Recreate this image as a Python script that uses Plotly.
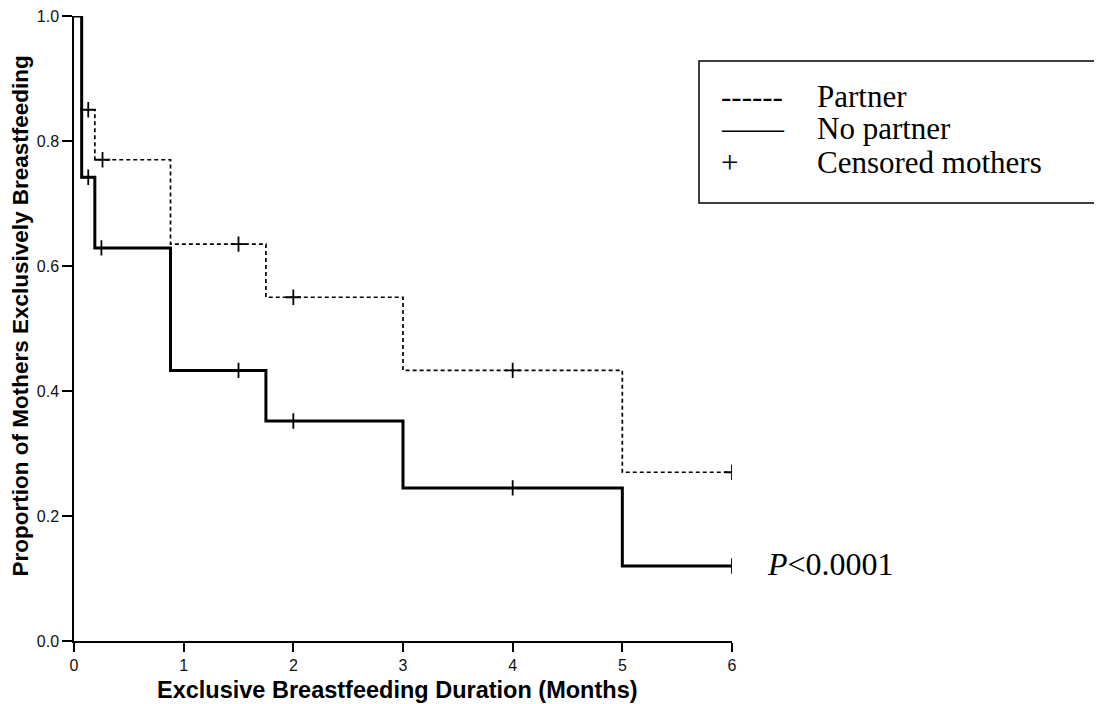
import plotly.graph_objects as go

# Kaplan-Meier step data (months, proportion)
partner_t = [0, 0.07, 0.19, 0.88, 1.75, 3.0, 5.0, 6.0]
partner_s = [1.0, 0.85, 0.77, 0.635, 0.55, 0.433, 0.27, 0.27]
nopartner_t = [0, 0.07, 0.19, 0.88, 1.75, 3.0, 5.0, 6.0]
nopartner_s = [1.0, 0.742, 0.629, 0.433, 0.352, 0.245, 0.12, 0.12]

# censored observations
partner_cens_t = [0.13, 0.26, 1.5, 2.0, 4.0, 6.0]
partner_cens_s = [0.85, 0.77, 0.635, 0.55, 0.433, 0.27]
nopartner_cens_t = [0.13, 0.25, 1.5, 2.0, 4.0, 6.0]
nopartner_cens_s = [0.742, 0.629, 0.433, 0.352, 0.245, 0.12]

x_ticks = [0, 1, 2, 3, 4, 5, 6]
y_ticks = [0.0, 0.2, 0.4, 0.6, 0.8, 1.0]
y_ticklabels = ["0.0", "0.2", "0.4", "0.6", "0.8", "1.0"]

legend_samples = ["------", "——", "+"]
legend_labels = ["Partner", "No partner", "Censored mothers"]
p_value_text = "<i>P</i>&lt;0.0001"
x_title = "<b>Exclusive Breastfeeding Duration (Months)</b>"
y_title = "<b>Proportion of Mothers Exclusively Breastfeeding</b>"

serif = "Liberation Serif, Times New Roman, serif"
sans = "Liberation Sans, Arial, sans-serif"

# page body has an 8px margin; plot area targeted at x 74..732, y 16..641 (page px)
W, H = 1094, 696
ML, MT = 66, 8
PW, PH = 658, 625
MR, MB = W - ML - PW, H - MT - PH


def px_x(page_x):
    return (page_x - 74) / PW


def px_y(page_y):
    return (641 - page_y) / PH


fig = go.Figure()
fig.add_trace(go.Scatter(
    x=partner_t, y=partner_s, mode="lines", line_shape="hv", name="Partner",
    line=dict(color="black", width=1.7, dash="4px,3px"), cliponaxis=False,
    showlegend=False))
fig.add_trace(go.Scatter(
    x=nopartner_t, y=nopartner_s, mode="lines", line_shape="hv", name="No partner",
    line=dict(color="black", width=3), cliponaxis=False, showlegend=False))
fig.add_trace(go.Scatter(
    x=partner_cens_t, y=partner_cens_s, mode="markers", name="Censored mothers",
    marker=dict(symbol="cross-thin", size=11, line=dict(color="black", width=1.8)),
    cliponaxis=True, showlegend=False))
fig.add_trace(go.Scatter(
    x=nopartner_cens_t, y=nopartner_cens_s, mode="markers", name="Censored mothers",
    marker=dict(symbol="cross-thin", size=11, line=dict(color="black", width=1.8)),
    cliponaxis=True, showlegend=False))

# legend box (extends past the right edge as in the reference)
fig.add_shape(type="rect", xref="paper", yref="paper",
              x0=px_x(699), x1=px_x(1120), y0=px_y(203), y1=px_y(61),
              line=dict(color="black", width=1.5), fillcolor="rgba(0,0,0,0)")

row_centers = [96, 129, 163]
for sample, label, yc in zip(legend_samples, legend_labels, row_centers):
    fig.add_annotation(text=sample, xref="paper", yref="paper",
                       x=px_x(719), y=px_y(yc), xanchor="left", yanchor="middle",
                       showarrow=False, font=dict(family=serif, size=31, color="black"))
    fig.add_annotation(text=label, xref="paper", yref="paper",
                       x=px_x(815), y=px_y(yc), xanchor="left", yanchor="middle",
                       showarrow=False, font=dict(family=serif, size=31, color="black"))

fig.add_annotation(
    text=p_value_text, xref="paper", yref="y", x=px_x(765), y=0.124,
    xanchor="left", yanchor="middle", showarrow=False,
    font=dict(family=serif, size=32, color="black"))

# axis titles
fig.add_annotation(
    text=x_title, xref="paper", yref="paper", x=px_x(397.5), y=px_y(690),
    xanchor="center", yanchor="middle", showarrow=False,
    font=dict(family=sans, size=23.5, color="black"))
fig.add_annotation(
    text=y_title, xref="paper", yref="paper", x=px_x(20), y=px_y(316.5),
    xanchor="center", yanchor="middle", showarrow=False, textangle=-90,
    font=dict(family=sans, size=22.5, color="black"))

fig.update_layout(
    width=W, height=H,
    margin=dict(l=ML, r=MR, t=MT, b=MB, autoexpand=False),
    paper_bgcolor="white", plot_bgcolor="white",
    showlegend=False,
    xaxis=dict(
        range=[0, 6], tickmode="array", tickvals=x_ticks,
        showgrid=False, zeroline=False, showline=True, linecolor="black", linewidth=1.5,
        ticks="outside", ticklen=9, tickwidth=1.5, tickcolor="black",
        tickfont=dict(family=sans, size=16, color="#111"),
        ticklabeloverflow="allow",
        automargin=False,
    ),
    yaxis=dict(
        range=[0, 1], tickmode="array", tickvals=y_ticks, ticktext=y_ticklabels,
        showgrid=False, zeroline=False, showline=True, linecolor="black", linewidth=1.5,
        ticks="outside", ticklen=10, tickwidth=1.5, tickcolor="black",
        tickfont=dict(family=sans, size=16, color="#111"),
        ticklabeloverflow="allow",
        automargin=False,
    ),
)

fig.write_html("out.html")
